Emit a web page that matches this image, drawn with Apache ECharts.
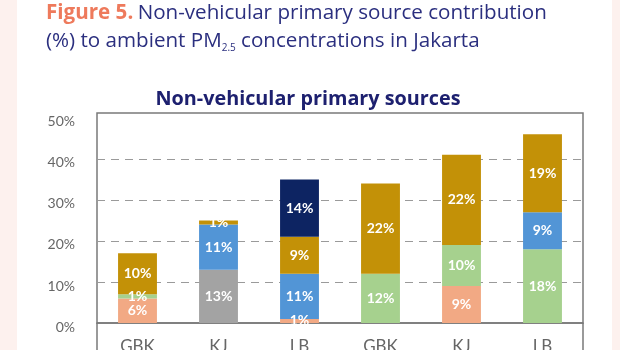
<!DOCTYPE html>
<html>
<head>
<meta charset="utf-8">
<script src="https://cdn.jsdelivr.net/npm/echarts@6/dist/echarts.min.js"></script>
<style>
html,body{margin:0;padding:0;background:#fdf1ee;}
#wrap{position:absolute;left:17px;top:0;width:595px;height:350px;background:#ffffff;}
#c{position:absolute;left:0;top:0;width:620px;height:350px;}
</style>
</head>
<body>
<div id="wrap"></div>
<div id="c"></div>
<script>
// categories
const categories = ['GBK', 'KJ', 'LB', 'GBK ', 'KJ ', 'LB '];
// series values (stack order bottom -> top), null = absent
const peachVals = [6, null, 1, null, 9, null];
const grayVals  = [null, 13, null, null, null, null];
const greenVals = [1, null, null, 12, 10, 18];
const blueVals  = [null, 11, 11, null, null, 9];
const goldVals  = [10, 1, 9, 22, 22, 19];
const navyVals  = [null, null, 14, null, null, null];
// y tick labels
const yTicks = [0, 10, 20, 30, 40, 50];

const seriesDefs = [
  {name: 'peach', data: peachVals, color: '#f2a984'},
  {name: 'gray',  data: grayVals,  color: '#a3a3a3'},
  {name: 'green', data: greenVals, color: '#a6d18e'},
  {name: 'blue',  data: blueVals,  color: '#5295d6'},
  {name: 'gold',  data: goldVals,  color: '#c39107'},
  {name: 'navy',  data: navyVals,  color: '#0d2462'}
];

const chart = echarts.init(document.getElementById('c'), null, {renderer: 'canvas'});
const FONT = 'Lato, "Open Sans", sans-serif';
const TFONT = '"Open Sans", Lato, sans-serif';
chart.setOption({
  backgroundColor: 'transparent',
  animation: false,
  textStyle: {fontFamily: FONT},
  title: [
    {
      left: 41, top: -6,
      text: '{a|Figure 5.} {b|Non-vehicular primary source contribution}\n{b|(%) to ambient PM}{s|2.5}{b| concentrations in Jakarta}',
      textStyle: {
        rich: {
          a: {fontFamily: TFONT, fontSize: 20.6, fontWeight: 'bold', color: '#ee7a5c', lineHeight: 28},
          b: {fontFamily: TFONT, fontSize: 20.6, fontWeight: 'normal', color: '#2b2f7f', lineHeight: 28},
          s: {fontFamily: TFONT, fontSize: 10, fontWeight: 'normal', color: '#2b2f7f', lineHeight: 28, padding: [14, 0, 0, 0]}
        }
      }
    },
    {
      left: 303, top: 84, textAlign: 'center',
      text: 'Non-vehicular primary sources',
      textStyle: {fontFamily: TFONT, fontSize: 19.8, fontWeight: 'bold', color: '#1d206f'}
    }
  ],
  grid: {left: 97, right: 37, top: 113, bottom: 27, outerBoundsMode: 'none', containLabel: false,
    show: true, borderColor: '#7a7a7a', borderWidth: 1.5, backgroundColor: 'transparent'},
  xAxis: {
    type: 'category',
    data: categories,
    axisLine: {show: true, lineStyle: {color: '#7a7a7a', width: 1.5}},
    axisTick: {show: true, interval: function (i) { return i === 3; }, length: 30, lineStyle: {color: '#7a7a7a', width: 1.5}},
    axisLabel: {color: '#666666', fontSize: 17, margin: 15, fontFamily: FONT, interval: 0, formatter: function (v) { return v.trim(); }}
  },
  yAxis: {
    type: 'value',
    min: 0, max: 51.2, interval: 10,
    axisLine: {show: false},
    axisTick: {show: false},
    axisLabel: {color: '#666666', fontSize: 14, margin: 22, fontFamily: FONT, showMaxLabel: false,
      verticalAlign: 'top', lineHeight: 8,
      formatter: function (v) { return yTicks.indexOf(v) >= 0 ? v + '%' : ''; }},
    splitLine: {show: true, lineStyle: {type: [8, 6], width: 1, color: ['transparent', '#9a9a9a', '#9a9a9a', '#9a9a9a', '#9a9a9a', 'transparent', 'transparent']}}
  },
  series: seriesDefs.map(function (s) {
    return {
      name: s.name,
      type: 'bar',
      stack: 'total',
      barWidth: '48%',
      data: s.data,
      itemStyle: {color: s.color},
      label: {
        show: true, position: 'inside', color: '#ffffff', fontSize: 14, fontWeight: 'bold', fontFamily: FONT,
        formatter: function (p) { return p.value == null ? '' : Math.round(p.value) + '%'; }
      }
    };
  })
});
</script>
</body>
</html>
